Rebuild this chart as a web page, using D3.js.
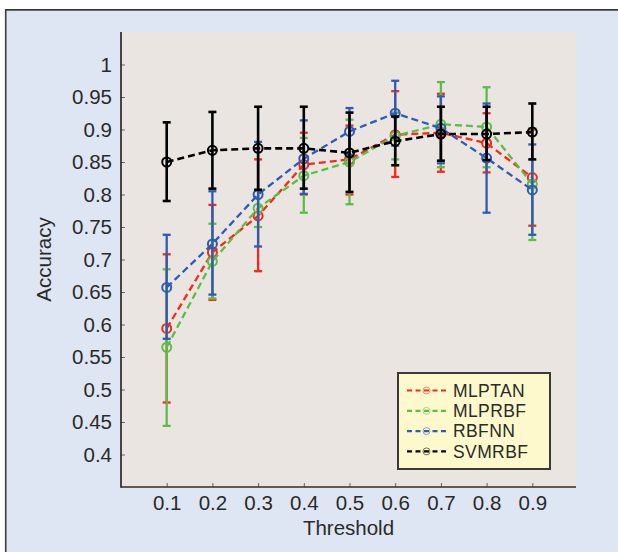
<!DOCTYPE html>
<html>
<head>
<meta charset="utf-8">
<script src="https://cdn.jsdelivr.net/npm/d3@7/dist/d3.min.js"></script>
<style>
  html, body { margin: 0; padding: 0; background: #fff; }
  svg { display: block; font-family: 'Liberation Sans', Arial, sans-serif; }
</style>
</head>
<body>
<div id="chart"></div>
<script>
// Data
const thresholds = [0.1, 0.2, 0.3, 0.4, 0.5, 0.6, 0.7, 0.8, 0.9];
const yTicks = [0.4, 0.45, 0.5, 0.55, 0.6, 0.65, 0.7, 0.75, 0.8, 0.85, 0.9, 0.95, 1];

const mlptanMean = [0.594, 0.711, 0.767, 0.846, 0.854, 0.892, 0.895, 0.879, 0.826];
const mlptanLo   = [0.480, 0.638, 0.682, 0.800, 0.800, 0.827, 0.835, 0.834, 0.752];
const mlptanHi   = [0.708, 0.784, 0.854, 0.895, 0.906, 0.959, 0.955, 0.925, 0.900];

const mlprbfMean = [0.565, 0.697, 0.779, 0.829, 0.850, 0.890, 0.908, 0.904, 0.816];
const mlprbfLo   = [0.444, 0.640, 0.750, 0.772, 0.785, 0.854, 0.842, 0.842, 0.730];
const mlprbfHi   = [0.685, 0.755, 0.808, 0.887, 0.915, 0.926, 0.973, 0.965, 0.902];

const rbfnnMean  = [0.657, 0.724, 0.800, 0.855, 0.897, 0.925, 0.902, 0.856, 0.807];
const rbfnnLo    = [0.578, 0.646, 0.720, 0.801, 0.861, 0.875, 0.848, 0.772, 0.738];
const rbfnnHi    = [0.738, 0.805, 0.881, 0.914, 0.933, 0.975, 0.951, 0.940, 0.877];

const svmrbfMean = [0.850, 0.868, 0.871, 0.871, 0.864, 0.882, 0.893, 0.893, 0.896];
const svmrbfLo   = [0.790, 0.809, 0.807, 0.809, 0.804, 0.845, 0.852, 0.853, 0.854];
const svmrbfHi   = [0.911, 0.927, 0.935, 0.935, 0.926, 0.920, 0.935, 0.935, 0.940];

const series = [
  { name: 'MLPTAN', color: '#f5281c', mean: mlptanMean, lo: mlptanLo, hi: mlptanHi },
  { name: 'MLPRBF', color: '#5bbd48', mean: mlprbfMean, lo: mlprbfLo, hi: mlprbfHi },
  { name: 'RBFNN',  color: '#2d5cb4', mean: rbfnnMean,  lo: rbfnnLo,  hi: rbfnnHi },
  { name: 'SVMRBF', color: '#000000', mean: svmrbfMean, lo: svmrbfLo, hi: svmrbfHi },
];

const width = 618;
const height = 552;
const plot = { left: 121, right: 576, top: 32, bottom: 487 };
const textColor = '#2a2a2a';
const fontSize = 20.5;

const svg = d3.select('#chart').append('svg')
  .attr('width', width)
  .attr('height', height);

// Outer panel
svg.append('rect')
  .attr('x', 5).attr('y', 9)
  .attr('width', width - 5).attr('height', height - 9)
  .attr('fill', '#dfe6f3');
svg.append('line')
  .attr('x1', 5).attr('x2', width).attr('y1', 9.8).attr('y2', 9.8)
  .attr('stroke', '#3a3a3a').attr('stroke-width', 1.8);
svg.append('line')
  .attr('x1', 5.7).attr('x2', 5.7).attr('y1', 9).attr('y2', height)
  .attr('stroke', '#3a3a3a').attr('stroke-width', 1.6);

// Plot background
svg.append('rect')
  .attr('x', plot.left).attr('y', plot.top)
  .attr('width', plot.right - plot.left).attr('height', plot.bottom - plot.top)
  .attr('fill', '#ebe5e1');

const x = d3.scaleLinear().domain([0, 1]).range([plot.left, 578]);
const y = d3.scaleLinear().domain([0.35, 1.05]).range([plot.bottom, plot.top]);

// Axes (ticks point inward)
const yAxis = svg.append('g')
  .attr('transform', `translate(${plot.left},0)`)
  .call(d3.axisLeft(y).tickValues(yTicks).tickSize(-4).tickPadding(9).tickFormat(d => String(d)));
const xAxis = svg.append('g')
  .attr('transform', `translate(0,${plot.bottom})`)
  .call(d3.axisBottom(x).tickValues(thresholds).tickSize(-4).tickPadding(8.5).tickFormat(d => String(d)));

for (const ax of [xAxis, yAxis]) {
  ax.select('.domain').remove();
  ax.selectAll('.tick line').attr('stroke', '#666').attr('stroke-width', 1);
  ax.selectAll('.tick text')
    .attr('fill', textColor)
    .style('font-size', `${fontSize}px`)
    .style('font-family', "'Liberation Sans', Arial, sans-serif");
}

svg.append('line')
  .attr('x1', plot.left).attr('x2', plot.left)
  .attr('y1', plot.top).attr('y2', plot.bottom + 0.8)
  .attr('stroke', '#1e1e1e').attr('stroke-width', 1.6);
svg.append('line')
  .attr('x1', plot.left).attr('x2', plot.right)
  .attr('y1', plot.bottom).attr('y2', plot.bottom)
  .attr('stroke', '#3a2a26').attr('stroke-width', 1.5);

// Axis titles
svg.append('text')
  .attr('x', (plot.left + plot.right) / 2)
  .attr('y', 535)
  .attr('text-anchor', 'middle')
  .attr('fill', textColor)
  .style('font-size', `${fontSize}px`)
  .text('Threshold');

svg.append('text')
  .attr('transform', `translate(51,${(plot.top + plot.bottom) / 2}) rotate(-90)`)
  .attr('text-anchor', 'middle')
  .attr('fill', textColor)
  .style('font-size', `${fontSize}px`)
  .text('Accuracy');

// Series: error bars, dashed line, circle markers
const line = d3.line()
  .x((d, i) => x(thresholds[i]))
  .y(d => y(d));
const capHalf = 4;

for (const s of series) {
  const g = svg.append('g');
  const lw = s.name === 'SVMRBF' ? 2.6 : 2.3;

  const bars = g.selectAll('g.err')
    .data(thresholds.map((t, i) => ({ t, lo: s.lo[i], hi: s.hi[i] })))
    .join('g')
    .attr('class', 'err')
    .attr('stroke', s.color)
    .attr('stroke-width', lw);
  bars.append('line')
    .attr('x1', d => x(d.t)).attr('x2', d => x(d.t))
    .attr('y1', d => y(d.lo)).attr('y2', d => y(d.hi));
  bars.append('line')
    .attr('x1', d => x(d.t) - capHalf).attr('x2', d => x(d.t) + capHalf)
    .attr('y1', d => y(d.lo)).attr('y2', d => y(d.lo));
  bars.append('line')
    .attr('x1', d => x(d.t) - capHalf).attr('x2', d => x(d.t) + capHalf)
    .attr('y1', d => y(d.hi)).attr('y2', d => y(d.hi));

  g.append('path')
    .datum(s.mean)
    .attr('d', line)
    .attr('fill', 'none')
    .attr('stroke', s.color)
    .attr('stroke-width', lw)
    .attr('stroke-dasharray', '7,4');

  g.selectAll('circle')
    .data(s.mean)
    .join('circle')
    .attr('cx', (d, i) => x(thresholds[i]))
    .attr('cy', d => y(d))
    .attr('r', 4.5)
    .attr('fill', 'none')
    .attr('stroke', s.color)
    .attr('stroke-width', 2);
}

// Legend (text kept a little smaller so rows don't collide)
const legendFont = 17.5;
const legend = svg.append('g');
legend.append('rect')
  .attr('x', 398).attr('y', 373)
  .attr('width', 152).attr('height', 96)
  .attr('fill', '#fdf9cc')
  .attr('stroke', '#3a3a3a')
  .attr('stroke-width', 2);

const rows = legend.selectAll('g.row')
  .data(series)
  .join('g')
  .attr('class', 'row')
  .attr('transform', (d, i) => `translate(0,${390.5 + i * 20.3})`);
rows.append('line')
  .attr('x1', 407).attr('x2', 446)
  .attr('stroke', d => d.color)
  .attr('stroke-width', 2.2)
  .attr('stroke-dasharray', '5,3.5');
rows.append('circle')
  .attr('cx', 426.5).attr('r', 3.5)
  .attr('fill', 'none')
  .attr('stroke', d => d.color)
  .attr('stroke-opacity', 0.55)
  .attr('stroke-width', 1);
rows.append('text')
  .attr('x', 453)
  .attr('dy', '0.36em')
  .attr('fill', textColor)
  .style('font-size', `${legendFont}px`)
  .style('letter-spacing', '0.4px')
  .text(d => d.name);
</script>
</body>
</html>
